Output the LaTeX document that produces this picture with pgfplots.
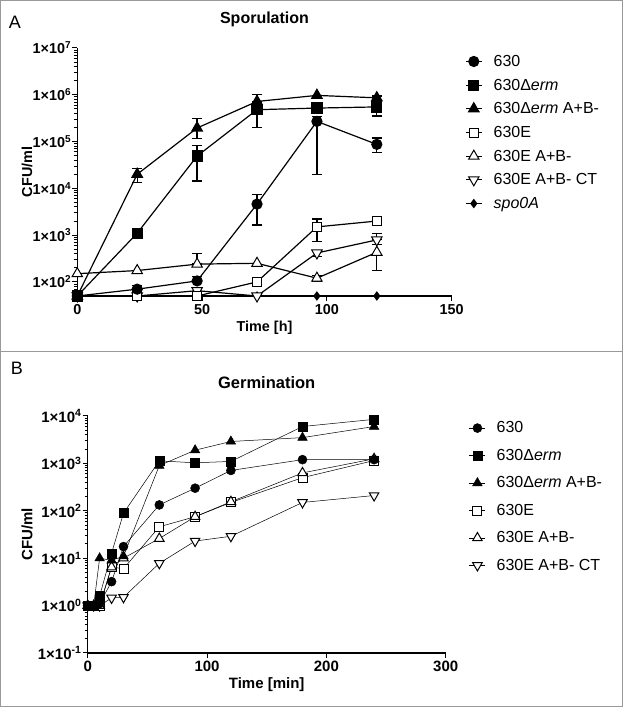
\documentclass[border=0pt]{standalone}
\usepackage{fontspec}
\setmainfont{Liberation Sans}
\usepackage{pgfplots}
\pgfplotsset{compat=1.18}
\usepackage{pgfplotstable}

\pgfplotstableread{
t v
0 50
24 70
48 105
72 4600
96 270000
120 87000
}\Aa
\pgfplotstableread{
t v
0 50
24 1100
48 49000
72 480000
96 520000
120 550000
}\Ab
\pgfplotstableread{
t v
0 50
24 20000
48 195000
72 720000
96 970000
120 860000
}\Ac
\pgfplotstableread{
t v
0 50
24 50
48 50
72 100
96 1500
120 2000
}\Ad
\pgfplotstableread{
t v
0 150
24 175
48 240
72 250
96 120
120 430
}\Ae
\pgfplotstableread{
t v
0 50
24 50
48 65
72 50
96 415
120 790
}\Af
\pgfplotstableread{
t v
0 50
24 50
48 50
72 50
96 50
120 50
}\Ag
\pgfplotstableread{
t v ep em
24 70 14 0
48 105 25 0
72 4600 2800 2950
96 270000 70000 250000
120 87000 33000 29000
48 49000 32000 34700
72 480000 220000 280000
120 550000 360000 200000
24 20000 7000 6500
48 195000 115000 80000
72 720000 300000 200000
120 860000 80000 80000
72 100 25 0
96 1500 700 780
120 2000 250 250
48 240 170 0
96 120 15 15
120 430 390 255
96 415 60 60
120 790 300 150
}\Aerr

\pgfplotstableread{
t v
0 1
5 1
10 1.1
20 3.2
30 17.6
60 133
90 300
120 710
180 1200
240 1200
}\Ba
\pgfplotstableread{
t v
0 1
5 1
10 1.6
20 12.7
30 89
60 1130
90 1030
120 1100
180 6000
240 8500
}\Bb
\pgfplotstableread{
t v
0 1
5 1
10 10
20 9
30 11
60 900
90 1900
120 2900
180 3500
240 6000
}\Bc
\pgfplotstableread{
t v
0 1
5 1
10 1
20 6.5
30 6
60 46
90 75
120 150
180 500
240 1150
}\Bd
\pgfplotstableread{
t v
0 1
5 1
10 1
20 6.5
30 10
60 26
90 75
120 155
180 630
240 1250
}\Be
\pgfplotstableread{
t v
0 1
5 1
10 1
20 1.45
30 1.5
60 7.8
90 23
120 29
180 150
240 210
}\Bf

\pgfplotsset{
  legend image code/.code={\draw[#1, mark repeat=2, mark phase=2] plot coordinates {(0pt,0pt) (8pt,0pt) (16pt,0pt)};},
}

\begin{document}
\begin{tikzpicture}
\useasboundingbox (0pt,0pt) rectangle (623pt,707pt);
\fill[white] (0pt,0pt) rectangle (623pt,707pt);
\draw[black!40, line width=1pt] (0.5pt,0.5pt) rectangle (622.5pt,706.5pt);
\draw[black!40, line width=1pt] (0.5pt,355pt) -- (622.5pt,355pt);
\node[font=\fontsize{18}{20}\selectfont] at (15pt,685pt) {A};
\node[font=\fontsize{18}{20}\selectfont] at (17pt,339pt) {B};

\begin{axis}[
  scale only axis,
  ymode=log, log basis y=10,
  axis lines=left,
  axis line style={-, line width=1.2pt},
  tick align=outside,
  tick style={black, line width=1pt},
  major tick length=5pt,
  minor tick length=3pt,
  clip=false,
  xticklabel style={font=\fontsize{14.4}{16}\selectfont\bfseries},
  yticklabel style={font=\fontsize{14.4}{16}\selectfont\bfseries, inner sep=1pt},
  title style={font=\fontsize{16}{18}\selectfont\bfseries, anchor=center, at={(0.5,1.0927)}},
  xlabel style={font=\fontsize{14.4}{16}\selectfont\bfseries, anchor=center, at={(axis description cs:0.5,-0.129)}},
  ylabel style={font=\fontsize{14.4}{16}\selectfont\bfseries, anchor=center, at={(axis description cs:-0.134,0.5)}},
  legend cell align=left,
  at={(77.3pt,411pt)}, anchor=south west,
  width=374.4pt, height=248pt,
  xmin=0, xmax=150, ymin=50, ymax=1e7,
  xtick={0,50,100,150}, xticklabels={0,50,100,150},
  ytick={1e2,1e3,1e4,1e5,1e6,1e7},
  yticklabels={1×10\textsuperscript{2},1×10\textsuperscript{3},1×10\textsuperscript{4},1×10\textsuperscript{5},1×10\textsuperscript{6},1×10\textsuperscript{7}},
  minor ytick={60,70,80,90,200,300,400,500,600,700,800,900,2000,3000,4000,5000,6000,7000,8000,9000,2e4,3e4,4e4,5e4,6e4,7e4,8e4,9e4,2e5,3e5,4e5,5e5,6e5,7e5,8e5,9e5,2e6,3e6,4e6,5e6,6e6,7e6,8e6,9e6},
  title={Sporulation},
  xlabel={Time [h]},
  ylabel={CFU/ml},
  legend style={draw=none, fill=none, at={(1.035,0.98)}, anchor=north west,
    font=\fontsize{16}{18}\selectfont, row sep=7pt, column sep=9pt, inner sep=0pt},
]
\addlegendimage{black, line width=1.2pt, mark=*, mark size=5pt}
\addlegendentry{630}
\addlegendimage{black, line width=1.2pt, mark=square*, mark size=5pt}
\addlegendentry{630Δ\textit{erm}}
\addlegendimage{black, line width=1.2pt, mark=triangle*, mark size=6pt}
\addlegendentry{630Δ\textit{erm} A+B-}
\addlegendimage{black, line width=1.2pt, mark=square*, mark size=4.5pt, mark options={fill=white, line width=1pt}}
\addlegendentry{630E}
\addlegendimage{black, line width=1.2pt, mark=triangle*, mark size=6pt, mark options={fill=white, line width=1pt}}
\addlegendentry{630E A+B-}
\addlegendimage{black, line width=1.2pt, mark=triangle*, mark size=6pt, mark options={fill=white, line width=1pt, rotate=180}}
\addlegendentry{630E A+B- CT}
\addlegendimage{black, line width=1.6pt, mark=diamond*, mark size=3.5pt}
\addlegendentry{\textit{spo0A}}

\addplot[forget plot, black, only marks, mark=*, mark size=0.01pt,
  error bars/.cd, y dir=both, y explicit, error mark=-,
  error bar style={line width=1.3pt, black},
  error mark options={rotate=90, line width=1.3pt, mark size=5pt, black}]
  table[x=t, y=v, y error plus=ep, y error minus=em] {\Aerr};
\addplot[forget plot, black, line width=1.6pt, mark=diamond*, mark size=3.5pt] table[x=t,y=v] {\Ag};
\addplot[forget plot, black, line width=1.2pt, mark=triangle*, mark size=6pt, mark options={fill=white, line width=1pt, rotate=180}] table[x=t,y=v] {\Af};
\addplot[forget plot, black, line width=1.2pt, mark=triangle*, mark size=6pt, mark options={fill=white, line width=1pt}] table[x=t,y=v] {\Ae};
\addplot[forget plot, black, line width=1.2pt, mark=square*, mark size=4.5pt, mark options={fill=white, line width=1pt}] table[x=t,y=v] {\Ad};
\addplot[forget plot, black, line width=1.2pt, mark=triangle*, mark size=6pt] table[x=t,y=v] {\Ac};
\addplot[forget plot, black, line width=1.2pt, mark=*, mark size=5pt] table[x=t,y=v] {\Aa};
\addplot[forget plot, black, line width=1.2pt, mark=square*, mark size=5pt] table[x=t,y=v] {\Ab};
\end{axis}

\begin{axis}[
  scale only axis,
  ymode=log, log basis y=10,
  axis lines=left,
  axis line style={-, line width=1.2pt},
  tick align=outside,
  tick style={black, line width=1pt},
  major tick length=5pt,
  minor tick length=3pt,
  clip=false,
  xticklabel style={font=\fontsize{15}{17}\selectfont\bfseries},
  yticklabel style={font=\fontsize{15}{17}\selectfont\bfseries, inner sep=1pt},
  title style={font=\fontsize{16.5}{18}\selectfont\bfseries, anchor=center, at={(0.5,1.114)}},
  xlabel style={font=\fontsize{15}{17}\selectfont\bfseries, anchor=center, at={(axis description cs:0.5,-0.135)}},
  ylabel style={font=\fontsize{15}{17}\selectfont\bfseries, anchor=center, at={(axis description cs:-0.1696,0.5)}},
  legend cell align=left,
  at={(87.7pt,54pt)}, anchor=south west,
  width=358pt, height=237pt,
  xmin=0, xmax=300, ymin=0.1, ymax=1e4,
  xtick={0,100,200,300}, xticklabels={0,100,200,300},
  ytick={0.1,1,10,100,1000,10000},
  yticklabels={1×10\textsuperscript{-1},1×10\textsuperscript{0},1×10\textsuperscript{1},1×10\textsuperscript{2},1×10\textsuperscript{3},1×10\textsuperscript{4}},
  minor ytick={0.2,0.3,0.4,0.5,0.6,0.7,0.8,0.9,2,3,4,5,6,7,8,9,20,30,40,50,60,70,80,90,200,300,400,500,600,700,800,900,2000,3000,4000,5000,6000,7000,8000,9000},
  title={Germination},
  xlabel={Time [min]},
  ylabel={CFU/ml},
  legend style={draw=none, fill=none, at={(1.065,0.985)}, anchor=north west,
    font=\fontsize{16}{18}\selectfont, row sep=10.8pt, column sep=9pt, inner sep=0pt},
]
\addlegendimage{black, line width=0.5pt, mark=*, mark size=4.5pt}
\addlegendentry{630}
\addlegendimage{black, line width=0.5pt, mark=square*, mark size=4.5pt}
\addlegendentry{630Δ\textit{erm}}
\addlegendimage{black, line width=0.5pt, mark=triangle*, mark size=5.5pt}
\addlegendentry{630Δ\textit{erm} A+B-}
\addlegendimage{black, line width=0.5pt, mark=square*, mark size=4.5pt, mark options={fill=white, line width=1pt}}
\addlegendentry{630E}
\addlegendimage{black, line width=0.5pt, mark=triangle*, mark size=5.5pt, mark options={fill=white, line width=1pt}}
\addlegendentry{630E A+B-}
\addlegendimage{black, line width=0.5pt, mark=triangle*, mark size=5.5pt, mark options={fill=white, line width=1pt, rotate=180}}
\addlegendentry{630E A+B- CT}

\addplot[forget plot, black, line width=0.5pt, mark=triangle*, mark size=5.5pt, mark options={fill=white, line width=1pt, rotate=180}] table[x=t,y=v] {\Bf};
\addplot[forget plot, black, line width=0.5pt, mark=square*, mark size=4.5pt, mark options={fill=white, line width=1pt}] table[x=t,y=v] {\Bd};
\addplot[forget plot, black, line width=0.5pt, mark=triangle*, mark size=5.5pt, mark options={fill=white, line width=1pt}] table[x=t,y=v] {\Be};
\addplot[forget plot, black, line width=0.5pt, mark=*, mark size=4.5pt] table[x=t,y=v] {\Ba};
\addplot[forget plot, black, line width=0.5pt, mark=triangle*, mark size=5.5pt] table[x=t,y=v] {\Bc};
\addplot[forget plot, black, line width=0.5pt, mark=square*, mark size=4.5pt] table[x=t,y=v] {\Bb};
\end{axis}
\end{tikzpicture}
\end{document}
